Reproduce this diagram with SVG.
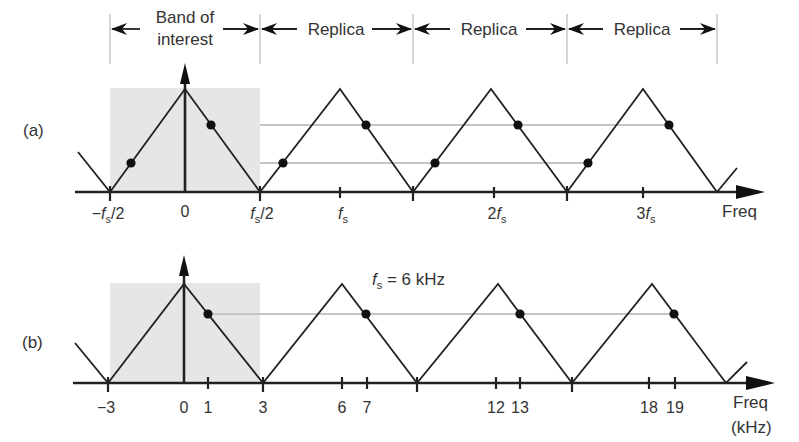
<svg xmlns="http://www.w3.org/2000/svg" width="799" height="442" viewBox="0 0 799 442">
<defs>
<style>
text{font-family:"Liberation Sans",Arial,sans-serif;fill:#333;}
.hdr{font-size:17px;text-anchor:middle;}
.lbl{font-size:16px;text-anchor:middle;}
.fi{font-style:italic;}
.sub{font-size:11px;}
.vline{stroke:#c8c8c8;stroke-width:1.5;}
.harr{stroke:#222;stroke-width:1.8;fill:none;marker-end:url(#ah);}
.axis{stroke:#222;stroke-width:2.6;fill:none;}
.tri{stroke:#222;stroke-width:1.8;fill:none;stroke-linejoin:miter;}
.tick{stroke:#222;stroke-width:2.2;}
.glin{stroke:#c4c4c4;stroke-width:1.8;}
.band{fill:#e6e6e6;}
.dot{fill:#111;}
.head{fill:#111;}
</style>
<marker id="ah" viewBox="0 0 16 12" refX="15" refY="6" markerWidth="16" markerHeight="12" markerUnits="userSpaceOnUse" orient="auto">
<path d="M0,0 L16,6 L0,12 L5,6 z" fill="#111"/>
</marker>
</defs>

<g id="header">
<line class="vline" x1="110" y1="14" x2="110" y2="64"/>
<line class="vline" x1="260" y1="14" x2="260" y2="64"/>
<line class="vline" x1="413" y1="14" x2="413" y2="64"/>
<line class="vline" x1="567" y1="14" x2="567" y2="64"/>
<line class="vline" x1="717" y1="14" x2="717" y2="64"/>
<text class="hdr" x="185" y="23">Band of</text>
<text class="hdr" x="185" y="45">interest</text>
<text class="hdr" x="336" y="35">Replica</text>
<text class="hdr" x="489" y="35">Replica</text>
<text class="hdr" x="642" y="35">Replica</text>
</g>

<g id="header-arrows">
<line class="harr" x1="140" y1="29" x2="112" y2="29"/>
<line class="harr" x1="223" y1="29" x2="258" y2="29"/>
<line class="harr" x1="297" y1="29" x2="262" y2="29"/>
<line class="harr" x1="372" y1="29" x2="411" y2="29"/>
<line class="harr" x1="450" y1="29" x2="415" y2="29"/>
<line class="harr" x1="526" y1="29" x2="565" y2="29"/>
<line class="harr" x1="603" y1="29" x2="569" y2="29"/>
<line class="harr" x1="680" y1="29" x2="715" y2="29"/>
</g>

<g id="panel-a">
<text x="23" y="136" style="font-size:17px">(a)</text>
<rect class="band" x="110" y="88" width="150" height="104"/>
<line class="glin" x1="260" y1="125" x2="669" y2="125"/>
<line class="glin" x1="260" y1="163" x2="588" y2="163"/>
<polyline class="tri" points="78,152 110,192 185,89 260,192 340,89 413,192 491,89 567,192 643,89 717,192 737,168"/>
<line class="axis" x1="75" y1="192" x2="742" y2="192"/>
<path class="head" d="M765,192 L736,185 L736,199 z"/>
<line class="axis" x1="185" y1="192" x2="185" y2="80"/>
<path class="head" d="M185,63 L180,84 L190,84 z"/>
<g>
<line class="tick" x1="110" y1="186" x2="110" y2="201"/>
<line class="tick" x1="260" y1="186" x2="260" y2="201"/>
<line class="tick" x1="413" y1="186" x2="413" y2="201"/>
<line class="tick" x1="567" y1="186" x2="567" y2="201"/>
<line class="tick" x1="340" y1="187" x2="340" y2="198"/>
<line class="tick" x1="494" y1="187" x2="494" y2="198"/>
<line class="tick" x1="643" y1="187" x2="643" y2="198"/>
</g>
<circle class="dot" cx="131" cy="163" r="4.6"/>
<circle class="dot" cx="211" cy="125" r="4.6"/>
<circle class="dot" cx="283" cy="163" r="4.6"/>
<circle class="dot" cx="366" cy="125" r="4.6"/>
<circle class="dot" cx="435" cy="163" r="4.6"/>
<circle class="dot" cx="518" cy="125" r="4.6"/>
<circle class="dot" cx="588" cy="163" r="4.6"/>
<circle class="dot" cx="669" cy="125" r="4.6"/>
<text class="lbl" x="108" y="219">−<tspan class="fi">f</tspan><tspan class="sub" dy="4">s</tspan><tspan dy="-4">/2</tspan></text>
<text class="lbl" x="185" y="217">0</text>
<text class="lbl" x="262" y="219"><tspan class="fi">f</tspan><tspan class="sub" dy="4">s</tspan><tspan dy="-4">/2</tspan></text>
<text class="lbl" x="343" y="219"><tspan class="fi">f</tspan><tspan class="sub" dy="4">s</tspan></text>
<text class="lbl" x="497" y="219">2<tspan class="fi">f</tspan><tspan class="sub" dy="4">s</tspan></text>
<text class="lbl" x="646" y="219">3<tspan class="fi">f</tspan><tspan class="sub" dy="4">s</tspan></text>
<text x="722" y="217" style="font-size:17px">Freq</text>
</g>

<g id="panel-b">
<text x="22" y="348" style="font-size:17px">(b)</text>
<rect class="band" x="110" y="283" width="150" height="100"/>
<line class="glin" x1="208" y1="314" x2="674" y2="314"/>
<polyline class="tri" points="75,343 108,383 184,284 263,383 342,284 417,383 498,284 572,383 652,284 726,383 747,362"/>
<line class="axis" x1="73" y1="383" x2="752" y2="383"/>
<path class="head" d="M775,383 L746,376 L746,390 z"/>
<line class="axis" x1="184" y1="383" x2="184" y2="272"/>
<path class="head" d="M184,255 L179,276 L189,276 z"/>
<g>
<line class="tick" x1="108" y1="377" x2="108" y2="392"/>
<line class="tick" x1="263" y1="377" x2="263" y2="392"/>
<line class="tick" x1="417" y1="377" x2="417" y2="392"/>
<line class="tick" x1="572" y1="377" x2="572" y2="392"/>
<line class="tick" x1="208" y1="377" x2="208" y2="389"/>
<line class="tick" x1="342" y1="377" x2="342" y2="389"/>
<line class="tick" x1="367" y1="377" x2="367" y2="389"/>
<line class="tick" x1="496" y1="377" x2="496" y2="389"/>
<line class="tick" x1="520" y1="377" x2="520" y2="389"/>
<line class="tick" x1="649" y1="377" x2="649" y2="389"/>
<line class="tick" x1="675" y1="377" x2="675" y2="389"/>
</g>
<circle class="dot" cx="208" cy="314" r="4.6"/>
<circle class="dot" cx="366" cy="314" r="4.6"/>
<circle class="dot" cx="520" cy="314" r="4.6"/>
<circle class="dot" cx="674" cy="314" r="4.6"/>
<text class="lbl" x="106" y="413">−3</text>
<text class="lbl" x="184" y="413">0</text>
<text class="lbl" x="208" y="413">1</text>
<text class="lbl" x="263" y="413">3</text>
<text class="lbl" x="342" y="413">6</text>
<text class="lbl" x="367" y="413">7</text>
<text class="lbl" x="496" y="413">12</text>
<text class="lbl" x="520" y="413">13</text>
<text class="lbl" x="649" y="413">18</text>
<text class="lbl" x="675" y="413">19</text>
<text x="733" y="408" style="font-size:17px">Freq</text>
<text x="731" y="433" style="font-size:17px">(kHz)</text>
<text x="372" y="285" style="font-size:17px"><tspan class="fi">f</tspan><tspan class="sub" dy="4">s</tspan><tspan dy="-4"> = 6 kHz</tspan></text>
</g>
</svg>
